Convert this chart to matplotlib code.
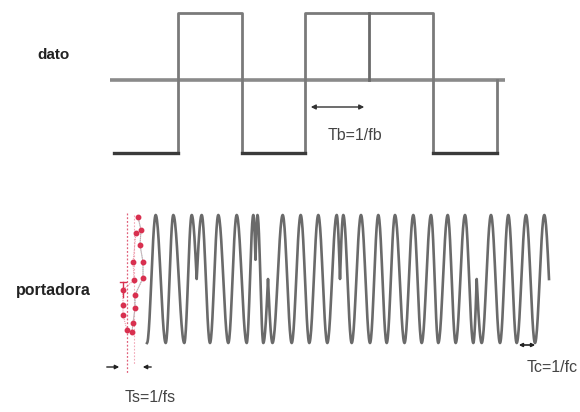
import numpy as np
import matplotlib
matplotlib.use("Agg")
import matplotlib.pyplot as plt

plt.rcParams['font.family'] = ['Liberation Sans', 'DejaVu Sans']

# bits of the data signal
bits = [0, 1, 0, 1, 1, 0]

# carrier: turning points (x position, level -1..1)
car_x = [147, 155.7, 165.7, 173.3, 184.3, 191.7, 196.7, 201.7, 210, 218.3,
         228.3, 236.7, 246.7, 253.3, 255.5, 257.5, 263.3, 268, 272.5, 282.7,
         291.7, 300.7, 309.3, 318.3, 327.3, 336.7, 340, 343.3, 351.7, 361,
         370, 378.3, 386.7, 395, 404.5, 413.3, 421.7, 431, 438.3, 447.7,
         455.7, 465, 473.3, 476.7, 481.7, 491, 500, 508.3, 516.7, 526,
         535, 544.3, 549]
car_lvl = [-1, 1, -1, 1, -1, 1, 0, 1, -1, 1,
           -1, 1, -1, 1, 0.3, 1, -1, 0, -1, 1,
           -1, 1, -1, 1, -1, 1, 0, 1, -1, 1,
           -1, 1, -1, 1, -1, 1, -1, 1, -1, 1,
           -1, 1, -1, 0, -1, 1, -1, 1, -1, 1,
           -1, 1, 0]

# red sample points on the first rising edge
samp_a_x = [138, 141, 140, 143, 143, 135, 135, 133, 132]
samp_a_y = [217, 230, 245, 262, 278, 295, 308, 323, 332]
samp_b_x = [136, 133, 134, 123, 123, 123, 127]
samp_b_y = [233, 262, 280, 290, 305, 315, 330]

# layout (pixels)
X0, BW = 114, 63.8
D_HI, D_MID, D_LO = 13, 80, 153
C_MID, C_AMP = 279, 64

fig = plt.figure(figsize=(5.8, 4.12), dpi=100)
ax = fig.add_axes([0, 0, 1, 1])
ax.set_xlim(0, 580)
ax.set_ylim(412, 0)
ax.axis('off')

# --- dato ---
edges = [X0 + i * BW for i in range(len(bits) + 1)]
ax.plot([110, 505], [D_MID, D_MID], color='#8a8a8a', lw=2.6, solid_capstyle='butt')
px, py = [], []
for i, b in enumerate(bits):
    y = D_HI if b else D_LO
    px += [edges[i], edges[i + 1]]
    py += [y, y]
px.append(edges[-1])
py.append(D_MID)
ax.plot(px, py, color='#7a7a7a', lw=2)
for i, b in enumerate(bits):
    if b == 0:
        ax.plot([edges[i], edges[i + 1]], [D_LO, D_LO], color='#3a3a3a', lw=2.4)
    if i > 0 and bits[i - 1] == b:
        ax.plot([edges[i], edges[i]], [D_HI if b else D_LO, D_MID], color='#6a6a6a', lw=2)

ax.annotate('', xy=(308, 107), xytext=(367, 107),
            arrowprops=dict(arrowstyle='<|-|>', color='#333333', lw=1,
                            mutation_scale=7))
ax.text(355, 135, 'Tb=1/fb', ha='center', va='center', fontsize=11.5, color='#444444')
ax.text(54, 55, 'dato', ha='center', va='center', fontsize=11,
        fontweight='bold', color='#222222')

# --- portadora ---
cx, cy = [], []
for i in range(len(car_x) - 1):
    x0, x1 = car_x[i], car_x[i + 1]
    l0, l1 = car_lvl[i], car_lvl[i + 1]
    t = np.linspace(0, 1, 25)
    if abs(l1) < 1:
        v = l1 + (l0 - l1) * np.cos(np.pi * t / 2)
    elif abs(l0) < 1:
        v = l0 + (l1 - l0) * np.sin(np.pi * t / 2)
    else:
        v = l0 + (l1 - l0) * (1 - np.cos(np.pi * t)) / 2
    cx += list(x0 + (x1 - x0) * t)
    cy += list(C_MID - C_AMP * v)
ax.plot(cx, cy, color='#6a6a6a', lw=1.9)

# sampling marks
ax.plot([127, 127], [213, 373], color='#e0607a', lw=0.9, ls=(0, (1.5, 1.5)))
ax.plot([134, 134], [215, 365], color='#f2a8b8', lw=0.8, ls=(0, (1.5, 1.5)))
ax.plot(samp_a_x, samp_a_y, color='#8fd0c8', lw=0.8, alpha=0.7)
ax.plot(samp_a_x, samp_a_y, color='#e88a9c', lw=0.7, ls=(0, (1, 1)))
ax.plot(samp_b_x, samp_b_y, color='#e88a9c', lw=0.7, ls=(0, (1, 1)))
ax.plot(samp_a_x, samp_a_y, ls='none', marker='o', ms=3.2, color='#d8304f')
ax.plot(samp_b_x, samp_b_y, ls='none', marker='o', ms=3.2, color='#d8304f')
ax.plot([123, 123], [282, 297], color='#d8304f', lw=1)
ax.plot([120, 126], [282, 282], color='#d8304f', lw=1)

ax.annotate('', xy=(122, 367), xytext=(104, 367),
            arrowprops=dict(arrowstyle='-|>', color='#222222', lw=1, mutation_scale=6))
ax.annotate('', xy=(140, 367), xytext=(154, 367),
            arrowprops=dict(arrowstyle='-|>', color='#222222', lw=1, mutation_scale=6))
ax.text(150, 398, 'Ts=1/fs', ha='center', va='center', fontsize=11.5, color='#444444')

ax.annotate('', xy=(516, 345), xytext=(538, 345),
            arrowprops=dict(arrowstyle='<|-|>', color='#222222', lw=1.2,
                            mutation_scale=5))
ax.text(552, 368, 'Tc=1/fc', ha='center', va='center', fontsize=11.5, color='#444444')
ax.text(53, 291, 'portadora', ha='center', va='center', fontsize=11.5,
        fontweight='bold', color='#222222')

fig.savefig('out.png', dpi=100)
